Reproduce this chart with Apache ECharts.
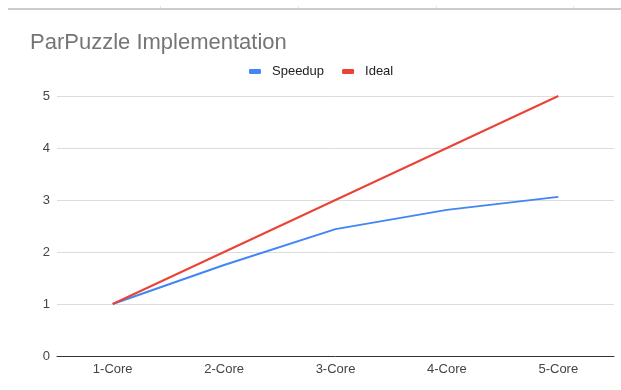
<!DOCTYPE html>
<html>
<head>
<meta charset="utf-8">
<style>
  html, body { margin: 0; padding: 0; background: #fff; }
  #chart { width: 621px; height: 390px; }
</style>
<script src="https://cdn.jsdelivr.net/npm/echarts@6/dist/echarts.min.js"></script>
</head>
<body>
<div id="chart"></div>
<script>
// Speedup measured for the puzzle solver vs. ideal linear scaling
const categories = ['1-Core', '2-Core', '3-Core', '4-Core', '5-Core'];
const speedup = [1, 1.75, 2.44, 2.81, 3.06];
const ideal = [1, 2, 3, 4, 5];
const yTicks = { min: 0, max: 5, interval: 1 };

const chart = echarts.init(document.getElementById('chart'), null, { renderer: 'canvas' });
const font = 'Arial, "Liberation Sans", sans-serif';

chart.setOption({
  backgroundColor: '#ffffff',
  animation: false,
  textStyle: { fontFamily: font },
  title: {
    text: 'ParPuzzle Implementation',
    left: 25,
    top: 27,
    textStyle: { fontFamily: font, fontSize: 22, fontWeight: 'normal', color: '#757575' }
  },
  legend: {
    top: 60,
    left: 244,
    icon: 'roundRect',
    itemWidth: 12,
    itemHeight: 5,
    itemGap: 18,
    textStyle: { fontFamily: font, fontSize: 13, color: '#222', padding: [0, 0, 0, 6] },
    data: ['Speedup', 'Ideal']
  },
  grid: { left: 57, right: 7, top: 96, bottom: 34, containLabel: false },
  xAxis: {
    type: 'category',
    data: categories,
    boundaryGap: true,
    axisLine: { lineStyle: { color: '#333', width: 1 } },
    axisTick: { show: false },
    axisLabel: { fontFamily: font, fontSize: 13, color: '#444', margin: 7 }
  },
  yAxis: {
    type: 'value',
    min: yTicks.min,
    max: yTicks.max,
    interval: yTicks.interval,
    axisLine: { show: false },
    axisTick: { show: false },
    axisLabel: { fontFamily: font, fontSize: 13, color: '#444', margin: 7 },
    splitLine: { lineStyle: { color: '#dcdcdc', width: 1 } }
  },
  series: [
    {
      name: 'Speedup',
      type: 'line',
      data: speedup,
      showSymbol: false,
      symbol: 'none',
      color: '#4285f4',
      lineStyle: { color: '#4285f4', width: 2 }
    },
    {
      name: 'Ideal',
      type: 'line',
      data: ideal,
      showSymbol: false,
      symbol: 'none',
      color: '#ea4335',
      lineStyle: { color: '#ea4335', width: 2 }
    }
  ],
  graphic: [
    {
      type: 'line',
      shape: { x1: 8, y1: 9, x2: 621, y2: 9 },
      style: { stroke: '#cccccc', lineWidth: 2 },
      silent: true
    },
    { type: 'line', shape: { x1: 160.5, y1: 6, x2: 160.5, y2: 8 }, style: { stroke: '#e4e4e4', lineWidth: 1 }, silent: true },
    { type: 'line', shape: { x1: 298.5, y1: 6, x2: 298.5, y2: 8 }, style: { stroke: '#e4e4e4', lineWidth: 1 }, silent: true },
    { type: 'line', shape: { x1: 436.5, y1: 6, x2: 436.5, y2: 8 }, style: { stroke: '#e4e4e4', lineWidth: 1 }, silent: true },
    { type: 'line', shape: { x1: 573.5, y1: 6, x2: 573.5, y2: 8 }, style: { stroke: '#e4e4e4', lineWidth: 1 }, silent: true }
  ]
});
</script>
</body>
</html>
